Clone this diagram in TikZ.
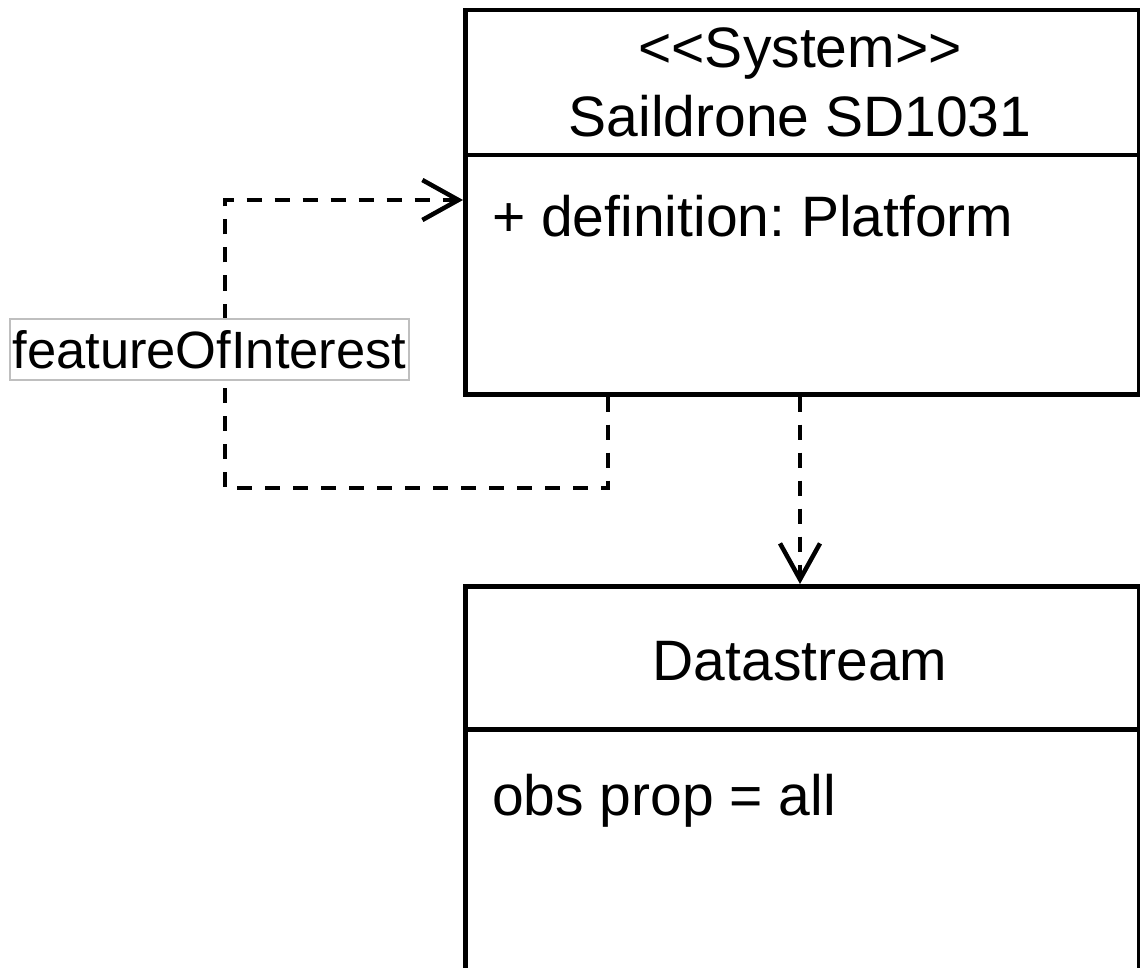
\documentclass[tikz,border=0pt]{standalone}
\usepackage{fontspec}
\setmainfont{Liberation Sans}
\usetikzlibrary{arrows.meta}
\frenchspacing
\tikzset{
  box/.style={draw=black, line width=4.5pt, fill=white, anchor=north west, inner sep=0pt, minimum width=674pt},
  boxtext/.style={font=\fontsize{57}{68}\selectfont, inner sep=0pt, anchor=base},
  attrtext/.style={font=\fontsize{57}{68}\selectfont, inner sep=0pt, anchor=base west},
  dep/.style={line width=4.5pt, dash pattern=on 15pt off 13pt, -{Straight Barb[length=36pt, width=40pt, line width=4.5pt]}},
  lbl/.style={draw=black!25, line width=1.5pt, fill=white, inner sep=0pt, minimum width=399pt, minimum height=61pt, font=\fontsize{52.5}{62}\selectfont}
}
\begin{document}
\begin{tikzpicture}[x=1pt, y=-1pt]
\useasboundingbox (0,0) rectangle (1140,968);
\clip (0,0) rectangle (1140,968);
% System box
\node[box, minimum height=145pt] (sysHead) at (463,8) {};
\node[box, minimum height=239pt] (sysBody) at (463,153) {};
\node[boxtext] (sysStereo) at (800,68) {{<}{<}System{>}{>}};
\node[boxtext] (sysName) at (800,137) {Saildrone SD1031};
\node[attrtext] (sysAttr) at (492,237) {+ definition: Platform};
% Datastream box
\node[box, minimum height=143pt] (dsHead) at (463,584) {};
\node[box, minimum height=300pt] (dsBody) at (463,727) {};
\node[boxtext] (dsName) at (800,680) {Datastream};
\node[attrtext] (dsAttr) at (492,815) {obs prop = all};
% featureOfInterest self-dependency
\coordinate (c1) at (608,488);
\coordinate (c2) at (225,488);
\coordinate (c3) at (225,200);
\draw[dep] (sysBody.south -| c1) -- (c1) -- (c2) -- (c3) -- (c3 -| sysBody.west);
\node[lbl] (foi) at (209.5,349.5) {featureOfInterest};
% dependency to Datastream
\coordinate (d1) at (800,0);
\draw[dep] (sysBody.south -| d1) -- (dsHead.north -| d1);
\end{tikzpicture}
\end{document}
